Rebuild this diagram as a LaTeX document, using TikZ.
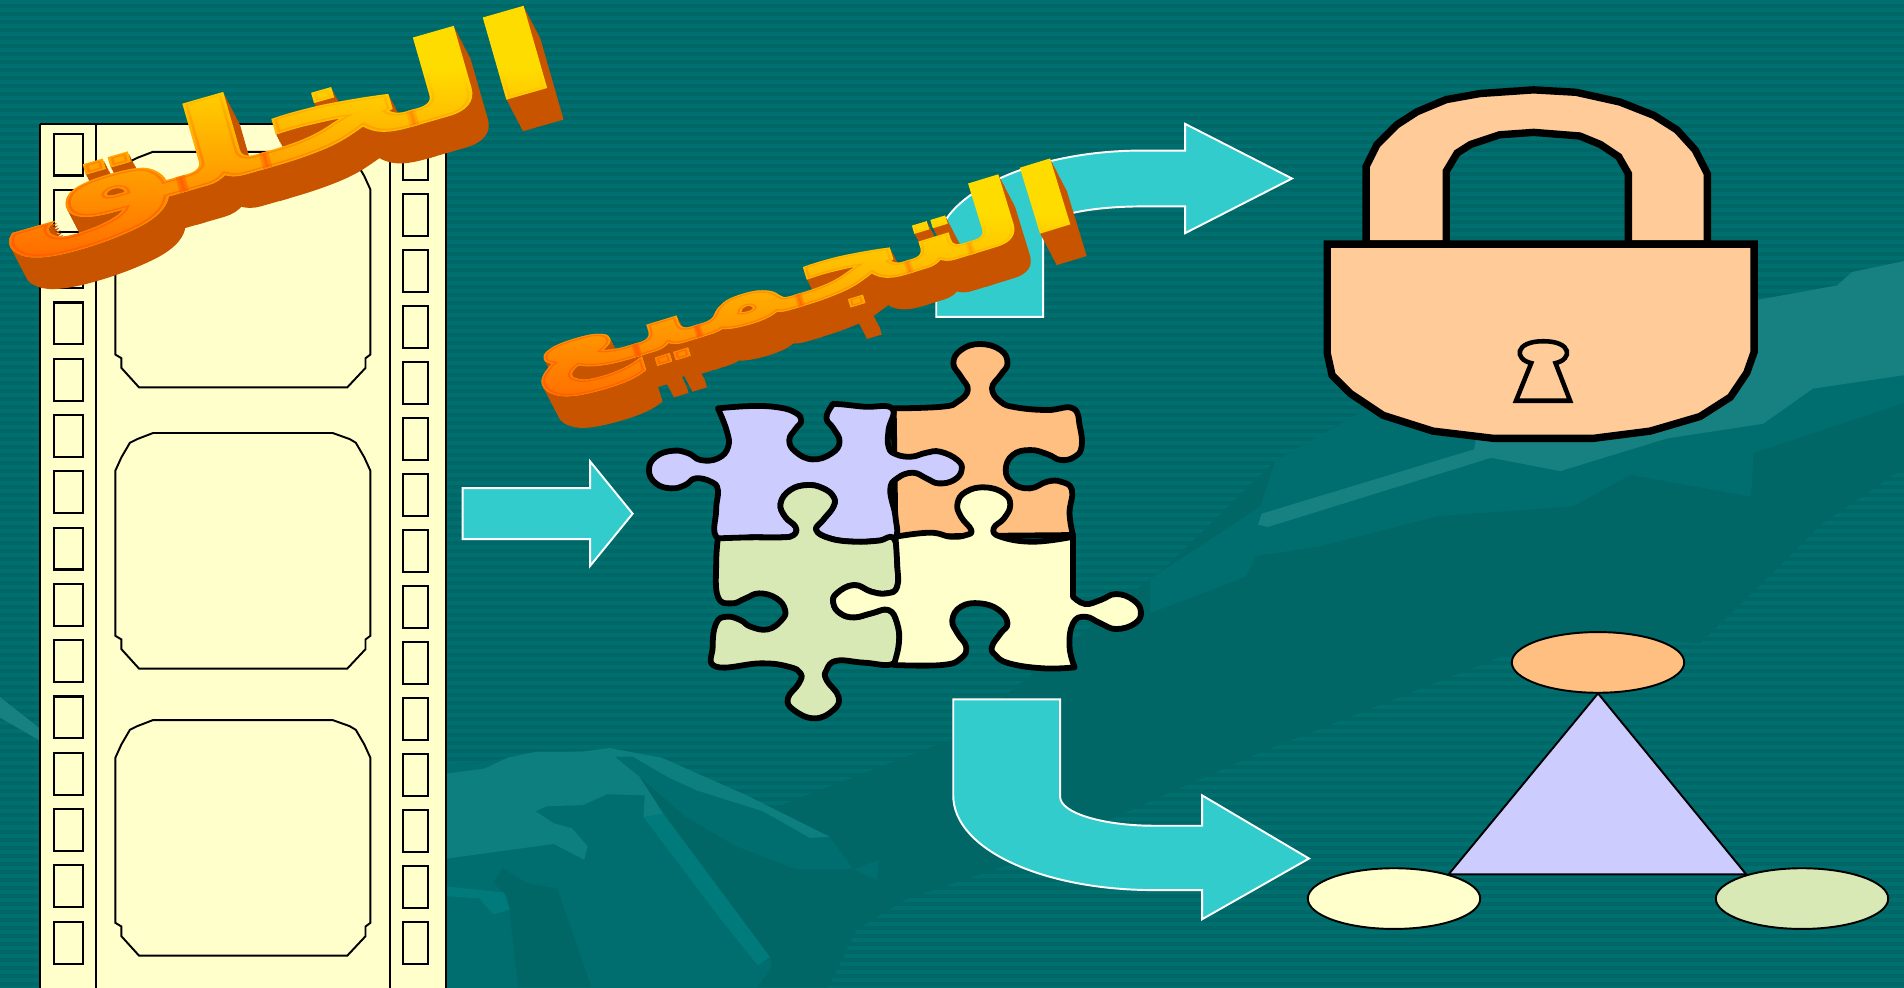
\documentclass[tikz,border=0pt]{standalone}
\usepackage{fontspec}
\usepackage{tikz}
\usetikzlibrary{fadings}
\newfontfamily\arabicfont[Script=Arabic, BoldFeatures={FakeBold=2.5}]{DejaVu Sans}
\TeXXeTstate=1

\definecolor{bgdark}{HTML}{006666}
\definecolor{bgstripe}{HTML}{006F6F}
\definecolor{bgmid}{HTML}{006E6E}
\definecolor{bglight}{HTML}{0E7F7F}
\definecolor{bgpale}{HTML}{178080}
\definecolor{bgstreak}{HTML}{007A7A}
\definecolor{filmcream}{HTML}{FFFFCC}
\definecolor{arrowcyan}{HTML}{33CCCC}
\definecolor{lockpeach}{HTML}{FFCC99}
\definecolor{pieceorange}{HTML}{FFBF80}
\definecolor{piecelilac}{HTML}{CCCCFF}
\definecolor{piecegreen}{HTML}{D9E9B5}
\definecolor{wordgold}{HTML}{FFDC00}
\definecolor{wordside}{HTML}{C85400}
\definecolor{wordflame}{HTML}{FF5A00}

\tikzset{
  bentarrow/.style={fill=arrowcyan, draw=white, line width=1.1pt, line join=miter},
  filmline/.style={draw=black, line width=1.3pt},
  holeline/.style={draw=black, line width=1.2pt},
  frameline/.style={draw=black, line width=1.1pt},
  piece/.style={draw=black, line width=3.3pt, line join=round},
  lockline/.style={fill=lockpeach, draw=black, line width=4.2pt, line join=miter},
  blobline/.style={draw=black, line width=1.1pt},
  wordtext/.style={inner sep=0pt, transform shape, font=\arabicfont\bfseries\fontsize{#1}{#1}\selectfont}
}

\newcommand{\wordart}[6]{%
  \foreach \d in {13,...,1}
    \node[wordtext=#6, text=wordside, rotate=#4, xscale=#5] (#1\d) at ({#2+1.04*\d},{#3+2*\d}) {\beginR\wordstr\endR};
  \node[wordtext=#6, text=wordgold, rotate=#4, xscale=#5] (#1top) at (#2,#3) {\beginR\wordstr\endR};
  \begin{scope}[transparency group]
    \path[scope fading=north] (#2-240,#3-55) rectangle (#2+240,#3+125);
    \node[wordtext=#6, text=wordflame, rotate=#4, xscale=#5] (#1glow) at (#2,#3) {\beginR\wordstr\endR};
  \end{scope}
}

\begin{document}
\begin{tikzpicture}[x=0.02429cm, y=-0.02429cm]
\useasboundingbox (0,0) rectangle (1568,813);

% Background
\fill[bgdark] (0,0) rectangle (1568,813);
\foreach \sy in {0,6.6,...,813}
  \fill[bgstripe] (0,\sy) rectangle (1568,\sy+3.3);
\fill[bgdark] (618,673) -- (783,609) -- (963,464) -- (1050,380) -- (1568,295) -- (1568,385) -- (1501,431) -- (1400,530)
  -- (1290,519) -- (1223,546) -- (1037,620) -- (825,714) -- (745,741) -- (705,766) -- (682,813) -- (500,813) -- cycle;

% Mountains on the right
\fill[bgmid] (1050,380) -- (1133,332) -- (1200,320) -- (1568,295) -- (1568,332) -- (1444,373) -- (1442,409) -- (1343,391)
  -- (1295,417) -- (1185,425) -- (1086,450) -- (1034,458) -- (1026,475) -- (947,505) -- (947,477) -- (1038,417) -- cycle;
\fill[bgpale] (1447,247) -- (1513,235) -- (1525,224) -- (1568,215) -- (1568,309) -- (1493,320) -- (1452,349) -- (1373,361)
  -- (1285,388) -- (1228,377) -- (1044,434) -- (1036,432) -- (1039,423) -- (1214,370) -- (1216,358) -- (1300,300) -- cycle;

% Mountains on the left
\fill[bgpale] (0,574) -- (33,600) -- (33,610) -- (0,591) -- cycle;
\fill[bgmid] (368,630) -- (502,616) -- (683,689) -- (703,716) -- (724,708) -- (722,725) -- (706,763) -- (678,813) -- (368,813) -- cycle;
\fill[bglight] (368,637) -- (399,633) -- (418,624) -- (442,619) -- (480,619) -- (502,616) -- (545,624) -- (615,655) -- (683,689)
  -- (667,690) -- (628,668) -- (574,651) -- (550,640) -- (521,623) -- (506,623) -- (527,640) -- (546,670) -- (530,673)
  -- (531,655) -- (500,654) -- (480,663) -- (450,664) -- (441,668) -- (456,678) -- (471,682) -- (484,697) -- (481,708)
  -- (456,695) -- (368,707) -- cycle;
\fill[bgdark] (527,640) -- (547,670) -- (634,788) -- (636,796) -- (624,813) -- (678,813) -- (706,763) -- (722,725) -- (703,716)
  -- (656,716) -- (606,697) -- (565,673) -- cycle;
\fill[bgstreak] (530,673) -- (546,670) -- (634,788) -- (624,795) -- (592,755) -- cycle;
\fill[bgdark] (406,727) -- (414,715) -- (433,727) -- (459,732) -- (487,813) -- (427,813) -- (418,738) -- cycle;
\fill[bgstreak] (368,730) -- (415,735) -- (420,749) -- (406,753) -- (395,740) -- (368,738) -- cycle;

% Film strip
\fill[filmcream] (33,102) rectangle (367,820);
\draw[filmline] (33,102) -- (33,820);
\draw[filmline] (367,102) -- (367,820);
\draw[filmline] (33,102) -- (367,102);
\draw[filmline] (79,102) -- (79,820);
\draw[filmline] (321,102) -- (321,820);
\foreach \i in {0,...,14} {
  \draw[holeline] (44.5,110+46.36*\i) rectangle (68.5,144.5+46.36*\i);
  \draw[holeline] (332,113.4+46.11*\i) rectangle (352.4,148+46.11*\i);
}
\foreach \fy in {125,356.6,593}
  \draw[frameline, shift={(95,\fy)}] (31,0) -- (179,0) -- (193,5) -- (198,8) -- (205,20) -- (210,31) -- (210,167) -- (206,170)
    -- (206,178) -- (191,194) -- (19.5,194) -- (5,178) -- (5,170) -- (0,167) -- (0,31) -- (5,20) -- (12,8) -- (18,5) -- cycle;

% Arrows
\draw[bentarrow] (381,402) -- (486,402) -- (486,380) -- (521,423) -- (486,466) -- (486,444) -- (381,444) -- cycle;
\draw[bentarrow] (771,261) -- (859,261) -- (859,190) .. controls (859,177) and (900,170) .. (940,170) -- (976,170) -- (976,192)
  -- (1064,147) -- (976,102) -- (976,124) -- (940,124) .. controls (850,124) and (771,160) .. (771,205) -- cycle;
\draw[bentarrow] (785,576) -- (873,576) -- (873,656) .. controls (873,670) and (910,680) .. (950,680) -- (990,680) -- (990,655)
  -- (1078,707) -- (990,757) -- (990,733) -- (950,733) .. controls (860,733) and (785,700) .. (785,655) -- cycle;

% Puzzle
\begin{scope}[shift={(518.8,271.8)}, x=0.0069cm, y=-0.00667cm]
\draw[piece, fill=pieceorange] plot[smooth, tension=0.75] coordinates {(765,235) (905,230) (950,215) (980,180) (960,140) (938,100) (960,60) (1015,42)
  (1075,60) (1095,100) (1075,135) (1050,175) (1075,215) (1120,232) (1210,240) (1285,235) (1305,290) (1310,350) (1290,380) (1250,390) (1210,372)
  (1160,360) (1110,375) (1090,420) (1110,460) (1160,475) (1210,455) (1250,455) (1282,480) (1275,550) (1285,615)} -- (770,620) -- cycle;
\draw[piece, fill=piecelilac] plot[smooth, tension=0.75] coordinates {(255,235) (350,228) (430,232) (480,248) (497,272) (480,297) (462,330) (480,365)
  (530,388) (585,370) (608,335) (590,295) (570,265) (585,228) (600,222) (680,230) (760,235) (750,300) (750,350) (770,372) (815,380) (860,368) (900,365)
  (950,390) (962,420) (940,450) (895,460) (860,445) (820,428) (775,445) (755,480) (770,560) (770,625) (720,632) (650,635) (580,625) (540,600) (560,570)
  (590,530) (590,500) (560,475) (515,465) (465,480) (437,520) (450,560) (480,590) (475,615) (440,622) (350,622) (255,625) (250,540) (255,480) (235,455)
  (190,445) (160,465) (120,475) (75,460) (55,420) (75,380) (125,362) (170,370) (205,390) (255,385) (285,350) (280,300) (255,235)} -- cycle;
\draw[piece, fill=piecegreen] plot[smooth, tension=0.75] coordinates {(255,625) (350,622) (440,622) (475,615) (480,590) (450,560) (437,520) (465,480)
  (515,465) (560,475) (590,500) (590,530) (560,570) (540,600) (580,625) (650,635) (720,632) (765,625) (775,700) (775,770) (745,790) (700,785) (650,765)
  (600,790) (590,820) (610,850) (650,862) (700,850) (750,840) (775,880) (780,940) (765,1000) (680,998) (600,992) (570,1020) (570,1050) (605,1100)
  (590,1140) (535,1165) (475,1140) (458,1105) (490,1060) (495,1030) (460,1010) (380,1000) (250,1010) (240,950) (250,880) (280,860) (320,870) (350,890)
  (400,898) (440,870) (450,840) (425,805) (375,790) (335,805) (295,820) (255,800) (250,700) (255,625)} -- cycle;
\draw[piece, fill=filmcream] plot[smooth, tension=0.75] coordinates {(770,620) (870,608) (930,620) (975,615) (990,600) (960,560) (950,520) (975,485)
  (1030,472) (1085,490) (1103,525) (1085,565) (1055,595) (1075,620) (1170,635) (1285,620)} -- (1285,800) -- plot[smooth, tension=0.75] coordinates {(1285,800) (1320,822) (1365,810)
  (1410,792) (1460,810) (1482,845) (1465,880) (1410,897) (1365,880) (1320,860) (1285,880) (1275,950) (1290,1012)} -- plot[smooth, tension=0.75] coordinates {(1290,1012) (1200,1015) (1100,1000)
  (1060,975) (1050,950) (1075,910) (1095,880) (1070,840) (1015,820) (960,830) (935,870) (950,910) (975,950) (960,985) (905,1005) (765,1005)} -- plot[smooth, tension=0.75] coordinates {(765,1005)
  (780,940) (775,880) (750,840) (700,850) (650,862) (610,850) (590,820) (600,790) (650,765) (700,785) (745,790) (775,770) (775,700) (770,620)} -- cycle;
\end{scope}

% Padlock
\draw[lockline] (1125,201) -- (1125,137) -- (1134,119) -- (1150,103) -- (1167,92) -- (1191,82) -- (1219,77) -- (1263,74) -- (1298,76) -- (1334,84)
  -- (1362,95) -- (1381,107) -- (1396,123.5) -- (1406,143) -- (1406,201) -- (1341,201) -- (1341,143) -- (1333,129) -- (1318,119) -- (1301,112)
  -- (1263,109) -- (1235,111) -- (1211,119) -- (1200,126) -- (1191,141) -- (1191,201) -- cycle;
\draw[lockline] (1093,201) -- (1444.5,201) -- (1444.5,290) -- (1438.5,307) -- (1425,327) -- (1400,343) -- (1359,355) -- (1312,361) -- (1230,361)
  -- (1180,355) -- (1139,342) -- (1112,324) -- (1097,309) -- (1093,291) -- cycle;
\draw[lockline, line width=2.6pt] (1261,299) -- (1248.5,330) -- (1293,330) -- (1281,299) .. controls (1295,296) and (1295,281) .. (1271,281)
  .. controls (1247,281) and (1247,296) .. (1261,299) -- cycle;

% Triangle with ellipses
\draw[blobline, fill=piecelilac] (1316,571) -- (1438,720) -- (1193,720) -- cycle;
\draw[blobline, fill=pieceorange] (1316,545.5) ellipse (71 and 25);
\draw[blobline, fill=filmcream] (1148,740) ellipse (71 and 25);
\draw[blobline, fill=piecegreen] (1484,740) ellipse (71 and 25);

% Word art
\def\wordstr{الخلق}
\wordart{wordCreate}{225}{112}{16}{1.95}{62}
\def\wordstr{التجميع}
\wordart{wordAssemble}{660}{232}{17}{1.8}{50}

\end{tikzpicture}
\end{document}
